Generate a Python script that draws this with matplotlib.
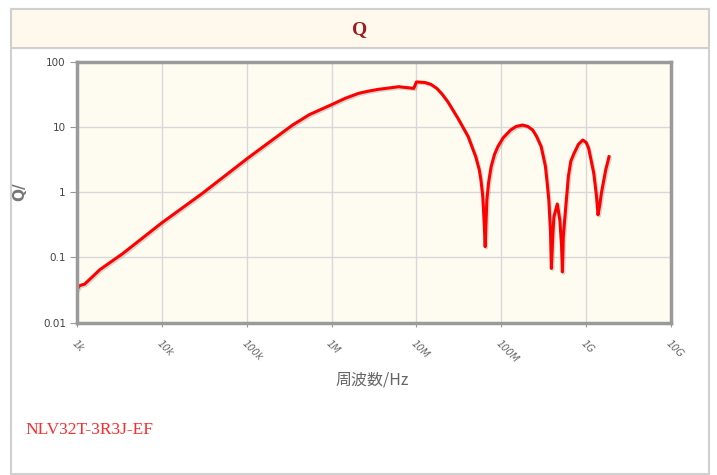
import matplotlib
matplotlib.use('Agg')
import matplotlib.pyplot as plt
import matplotlib.patheffects as pe
from matplotlib.patches import Rectangle

# 周波数 (Hz) と Q 値
freq = [1.0e3, 1.07e3, 1.23e3, 1.86e3, 3.47e3, 9.8e3, 3.0e4, 1.02e5, 3.47e5,
        5.5e5, 9.8e5, 1.45e6, 2.09e6, 2.75e6, 3.55e6, 4.7e6, 6.17e6, 9.3e6,
        1.0e7, 1.26e7, 1.48e7, 1.74e7, 2.0e7, 2.34e7,
        3.09e7, 4.07e7, 5.0e7, 5.5e7, 5.75e7, 6.03e7, 6.17e7, 6.31e7, 6.46e7,
        6.61e7, 6.76e7, 7.08e7, 7.59e7, 8.32e7, 9.12e7, 1.05e8, 1.29e8, 1.5e8,
        1.78e8, 2.05e8, 2.34e8, 2.6e8, 2.95e8, 3.31e8, 3.47e8, 3.63e8, 3.80e8,
        3.89e8, 4.07e8, 4.17e8, 4.57e8, 4.9e8, 5.13e8, 5.25e8, 5.37e8, 5.62e8,
        6.17e8, 6.6e8, 7.24e8, 8.1e8, 9.12e8, 1.0e9, 1.07e9, 1.23e9, 1.32e9,
        1.38e9, 1.45e9, 1.51e9, 1.70e9, 1.86e9]
q = [0.032, 0.037, 0.039, 0.065, 0.115, 0.333, 0.96, 3.3, 10.7,
     15.5, 21.7, 27.5, 32.8, 35.5, 37.7, 39.5, 41.4, 39.0,
     49.0, 48.0, 45.0, 39.0, 32.0, 24.4,
     13.5, 7.1, 3.5, 2.2, 1.54, 0.9, 0.54, 0.3, 0.146,
     0.35, 0.76, 1.4, 2.46, 3.8, 5.0, 6.8, 9.0, 10.2,
     10.7, 10.2, 9.0, 7.2, 5.0, 2.5, 1.4, 0.76, 0.25,
     0.068, 0.25, 0.42, 0.66, 0.37, 0.15, 0.060, 0.2, 0.42,
     1.74, 3.0, 4.0, 5.4, 6.3, 5.8, 4.7, 1.95, 0.9,
     0.45, 0.65, 0.96, 2.2, 3.5]

x_ticks = [1e3, 1e4, 1e5, 1e6, 1e7, 1e8, 1e9, 1e10]
x_labels = ['1k', '10k', '100k', '1M', '10M', '100M', '1G', '10G']
y_ticks = [0.01, 0.1, 1, 10, 100]
y_labels = ['0.01', '0.1', '1', '10', '100']

W, H = 717, 475
fig = plt.figure(figsize=(W / 100, H / 100), dpi=100)
fig.patch.set_facecolor('white')


def fx(px):
    return px / W


def fy(py):
    return 1 - py / H


# 外枠とタイトル帯
fig.patches.append(Rectangle((fx(10.5), fy(474)), fx(709 - 10.5), (474 - 9) / H,
                             transform=fig.transFigure, facecolor='white',
                             edgecolor='#d0d0d0', linewidth=1.5, zorder=0))
fig.patches.append(Rectangle((fx(10.5), fy(48)), fx(709 - 10.5), (48 - 9) / H,
                             transform=fig.transFigure, facecolor='#fef9ec',
                             edgecolor='#d0d0d0', linewidth=1.5, zorder=1))
fig.text(fx(360), fy(30), 'Q', color='#9b1c1c', fontsize=14, fontweight='bold',
         family='Liberation Serif', ha='center', va='center')

ax = fig.add_axes([fx(77), fy(322.7), fx(671 - 77), (322.7 - 61.7) / H])
ax.set_zorder(5)
ax.set_facecolor('#fefbf1')
ax.set_xscale('log')
ax.set_yscale('log')
ax.set_xlim(1e3, 1e10)
ax.set_ylim(0.01, 100)

ax.plot(freq, q, color='#ff0000', linewidth=2.2, solid_joinstyle='round',
        path_effects=[pe.SimpleLineShadow(offset=(1, -1), alpha=0.15), pe.Normal()])

ax.set_xticks(x_ticks)
ax.set_xticklabels(x_labels, rotation=-45, ha='left', va='top',
                   rotation_mode='anchor', fontsize=7, color='#666666',
                   fontstyle='italic')
ax.set_yticks(y_ticks)
ax.set_yticklabels(y_labels, fontsize=7.5, color='#444444')
ax.minorticks_off()
ax.tick_params(axis='x', length=3, color='#999999', pad=8)
ax.tick_params(axis='y', length=5, color='#999999', pad=3)
ax.grid(True, color='#d8d8d8', linewidth=1)
ax.set_axisbelow(True)
for s in ax.spines.values():
    s.set_color('#9a9a9a')
    s.set_linewidth(2.5)

fig.text(fx(20), fy(192), 'Q/', rotation=90, color='#777777', fontsize=11,
         fontweight='bold', ha='center', va='center')
fig.text(fx(372), fy(380), '周波数/Hz', color='#666666', fontsize=11.5,
         family=['Noto Sans CJK JP', 'DejaVu Sans'], ha='center', va='center')
fig.text(fx(25), fy(430), 'NLV32T-3R3J-EF', color='#ff2a2a', fontsize=12.5,
         family='Liberation Serif', ha='left', va='center')

fig.savefig('out.png', dpi=100)
